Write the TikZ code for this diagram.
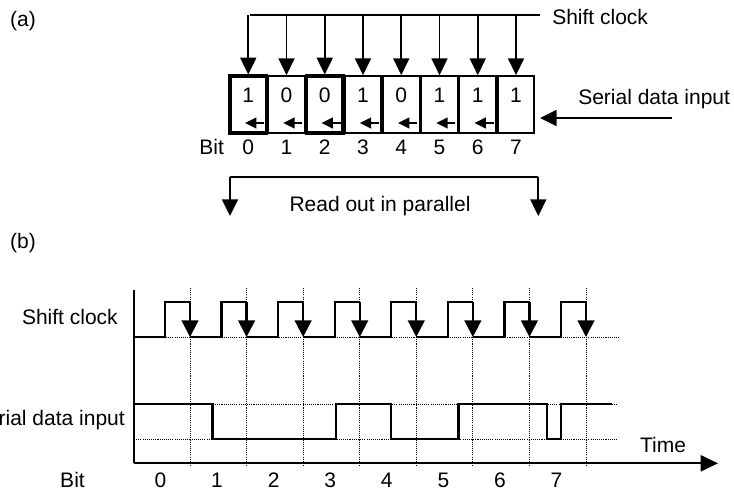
\documentclass[tikz,border=0pt]{standalone}
\usepackage{fontspec}
\setmainfont{Liberation Sans}
\usetikzlibrary{arrows.meta}
\begin{document}
\begin{tikzpicture}[x=0.75pt,y=-0.75pt,
  font=\fontsize{15.75}{18}\selectfont,
  thin/.style={line width=1.35pt},
  regbox/.style={draw, minimum width=27.4pt, minimum height=42.75pt, inner sep=0pt},
  bigtip/.style={-{Triangle[width=12pt,length=12.5pt]}},
  smalltip/.style={-{Triangle[width=8pt,length=8.5pt]}},
  falltip/.style={-{Triangle[width=12.5pt,length=12.5pt]}},
  gridline/.style={line width=0.6pt, dash pattern=on 0.8pt off 0.8pt},
  wave/.style={line width=1.8pt, line join=miter},
  lbl/.style={inner sep=0pt}]
\useasboundingbox (0,0) rectangle (734,497);
\clip (0,0) rectangle (734,497);

% ---------- (a) ----------
\node[lbl] (la) at (23,21) {(a)};
\coordinate (clkL) at (250.4,15);
\coordinate (clkR) at (540,15);
\draw[thin] (clkL) -- (clkR);
\node[lbl, anchor=west] (clktxt) at (552,17) {Shift clock};

\foreach \i/\v/\w in {0/1/2.4,1/0/1.35,2/0/2.4,3/1/1.35,4/0/1.35,5/1/1.35,6/1/1.35,7/1/1.35}{
  \pgfmathsetmacro\cx{248.25+38.25*\i}
  \node[regbox, line width=\w pt] (b\i) at (\cx,104.5) {};
  \node[lbl] (d\i) at (\cx,95) {\v};
  \node[lbl] (n\i) at (\cx,147) {\i};
  \coordinate (t\i) at (\cx,15);
  \draw[thin,bigtip] (t\i) -- (b\i.north);
}
\foreach \i in {0,...,6}{
  \pgfmathsetmacro\ax{264+38.25*\i}
  \pgfmathsetmacro\bx{245+38.25*\i}
  \coordinate (sa\i) at (\ax,123);
  \coordinate (sb\i) at (\bx,123);
  \draw[thin,smalltip] (sa\i) -- (sb\i);
}
\node[lbl] (bittop) at (211.7,147) {Bit};

\coordinate (sdin) at (672,118);
\coordinate (sdend) at (540,118);
\draw[thin,bigtip] (sdin) -- (sdend);
\node[lbl, anchor=west] (sdtxt) at (578,99) {Serial data input};

\coordinate (roL) at (230,177.3);
\coordinate (roR) at (538.3,177.3);
\coordinate (roLd) at (230,216);
\coordinate (roRd) at (538.3,216);
\draw[thin] (roL) -- (roR);
\draw[thin,bigtip] (roL) -- (roLd);
\draw[thin,bigtip] (roR) -- (roRd);
\node[lbl] (rotxt) at (380,206) {Read out in parallel};

% ---------- (b) ----------
\node[lbl] (lb) at (23,243) {(b)};

% grid
\draw[gridline] (134,337) -- (620,337);
\draw[gridline] (134,404) -- (617,404);
\draw[gridline] (134,439) -- (617,439);
\foreach \i in {0,...,7}{
  \pgfmathsetmacro\fx{190+56.57*\i}
  \draw[gridline] (\fx,288) -- (\fx,467);
}

% axes
\coordinate (O) at (134,463.3);
\coordinate (Ytop) at (134,290);
\coordinate (Xend) at (718,463.3);
\draw[line width=1.7pt] (Ytop) -- (O);
\draw[line width=1.7pt,-{Triangle[width=12pt,length=13pt]}] (O) -- (Xend);

% clock
\draw[wave] (134,337) -- (165,337) -- (165,302) -- (190,302);
\foreach \i in {1,...,7}{
  \pgfmathsetmacro\fx{190+56.57*\i}
  \pgfmathsetmacro\px{190+56.57*(\i-1)}
  \pgfmathsetmacro\rx{\fx-25}
  \draw[wave] (\px,337) -- (\rx,337) -- (\rx,302) -- (\fx,302);
}
\foreach \i in {0,...,7}{
  \pgfmathsetmacro\fx{190+56.57*\i}
  \coordinate (fh\i) at (\fx,302);
  \coordinate (fl\i) at (\fx,337);
  \draw[wave,falltip] (fh\i) -- (fl\i);
}

% data
\draw[wave] (134,404) -- (212.5,404) -- (212.5,439) -- (336,439) -- (336,404)
  -- (390.7,404) -- (390.7,439) -- (458.3,439) -- (458.3,404) -- (546.7,404)
  -- (546.7,439) -- (560.7,439) -- (560.7,404) -- (612,404);

% labels
\node[lbl, anchor=east] (sclbl) at (118,317) {Shift clock};
\node[lbl, anchor=east] (sdlbl) at (125,420) {Serial data input};
\node[lbl] (timelbl) at (663,445) {Time};
\node[lbl] (bitbot) at (72.5,480) {Bit};
\foreach \i in {0,...,7}{
  \pgfmathsetmacro\lx{160.5+56.57*\i}
  \node[lbl] (m\i) at (\lx,480) {\i};
}
\end{tikzpicture}
\end{document}
